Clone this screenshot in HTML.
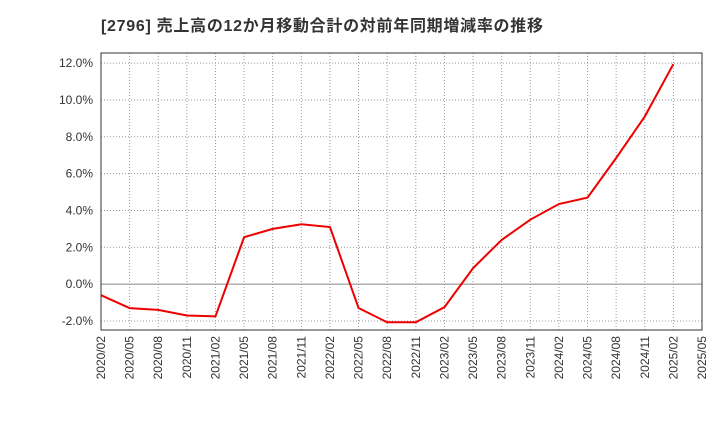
<!DOCTYPE html>
<html><head><meta charset="utf-8"><style>
body{margin:0;background:#fff;}
svg text{font-family:"Liberation Sans","Noto Sans CJK JP",sans-serif;}
</style></head><body>
<svg id="chart" width="720" height="440" xmlns="http://www.w3.org/2000/svg">
<text x="101" y="31" font-size="16" font-weight="bold" fill="#333" textLength="442" lengthAdjust="spacing">[2796]  売上高の12か月移動合計の対前年同期増減率の推移</text>
<g id="grid"></g><g id="axes"></g><g id="series"></g>
</svg>
<script>
const categories=["2020/02","2020/05","2020/08","2020/11","2021/02","2021/05","2021/08","2021/11","2022/02","2022/05","2022/08","2022/11","2023/02","2023/05","2023/08","2023/11","2024/02","2024/05","2024/08","2024/11","2025/02","2025/05"];
const values=[-0.6,-1.3,-1.4,-1.7,-1.75,2.55,3.0,3.25,3.1,-1.3,-2.07,-2.07,-1.25,0.87,2.4,3.5,4.35,4.7,6.85,9.1,11.95];
const yTicks=[-2,0,2,4,6,8,10,12];
const ns="http://www.w3.org/2000/svg";
const L=101,R=702,T=53,B=330,yMin=-2.49,yMax=12.55;
const x=i=>L+(R-L)*i/(categories.length-1);
const y=v=>B-(v-yMin)/(yMax-yMin)*(B-T);
function mk(tag,attrs,parent){const e=document.createElementNS(ns,tag);for(const k in attrs)e.setAttribute(k,attrs[k]);parent.appendChild(e);return e;}
const grid=document.getElementById('grid'),axes=document.getElementById('axes'),series=document.getElementById('series');
yTicks.forEach(v=>{
 const l=mk('line',{x1:L,x2:R,y1:y(v),y2:y(v),stroke:v===0?'#888':'#999','stroke-dasharray':v===0?'':'1,2','stroke-width':1},grid);
 
 
 const t=mk('text',{x:L-8,y:y(v)+4,'text-anchor':'end','font-size':12,fill:'#333'},axes);
 t.textContent=v.toFixed(1)+'%';
 
 
});
categories.forEach((c,i)=>{
 const l=mk('line',{x1:x(i),x2:x(i),y1:T,y2:B,stroke:'#999','stroke-dasharray':'1,2'},grid);
 
 
 const t=mk('text',{x:0,y:0,'text-anchor':'end','font-size':12,fill:'#333',transform:`translate(${x(i)+4},${B+6}) rotate(-90)`},axes);
 t.textContent=c;
 
 
});
const f=mk('rect',{x:L,y:T,width:R-L,height:B-T,fill:'none',stroke:'#333'},axes);


const p=mk('polyline',{points:values.map((v,i)=>x(i)+','+y(v)).join(' '),fill:'none',stroke:'#ee0000','stroke-width':2},series);


</script>
</body></html>
